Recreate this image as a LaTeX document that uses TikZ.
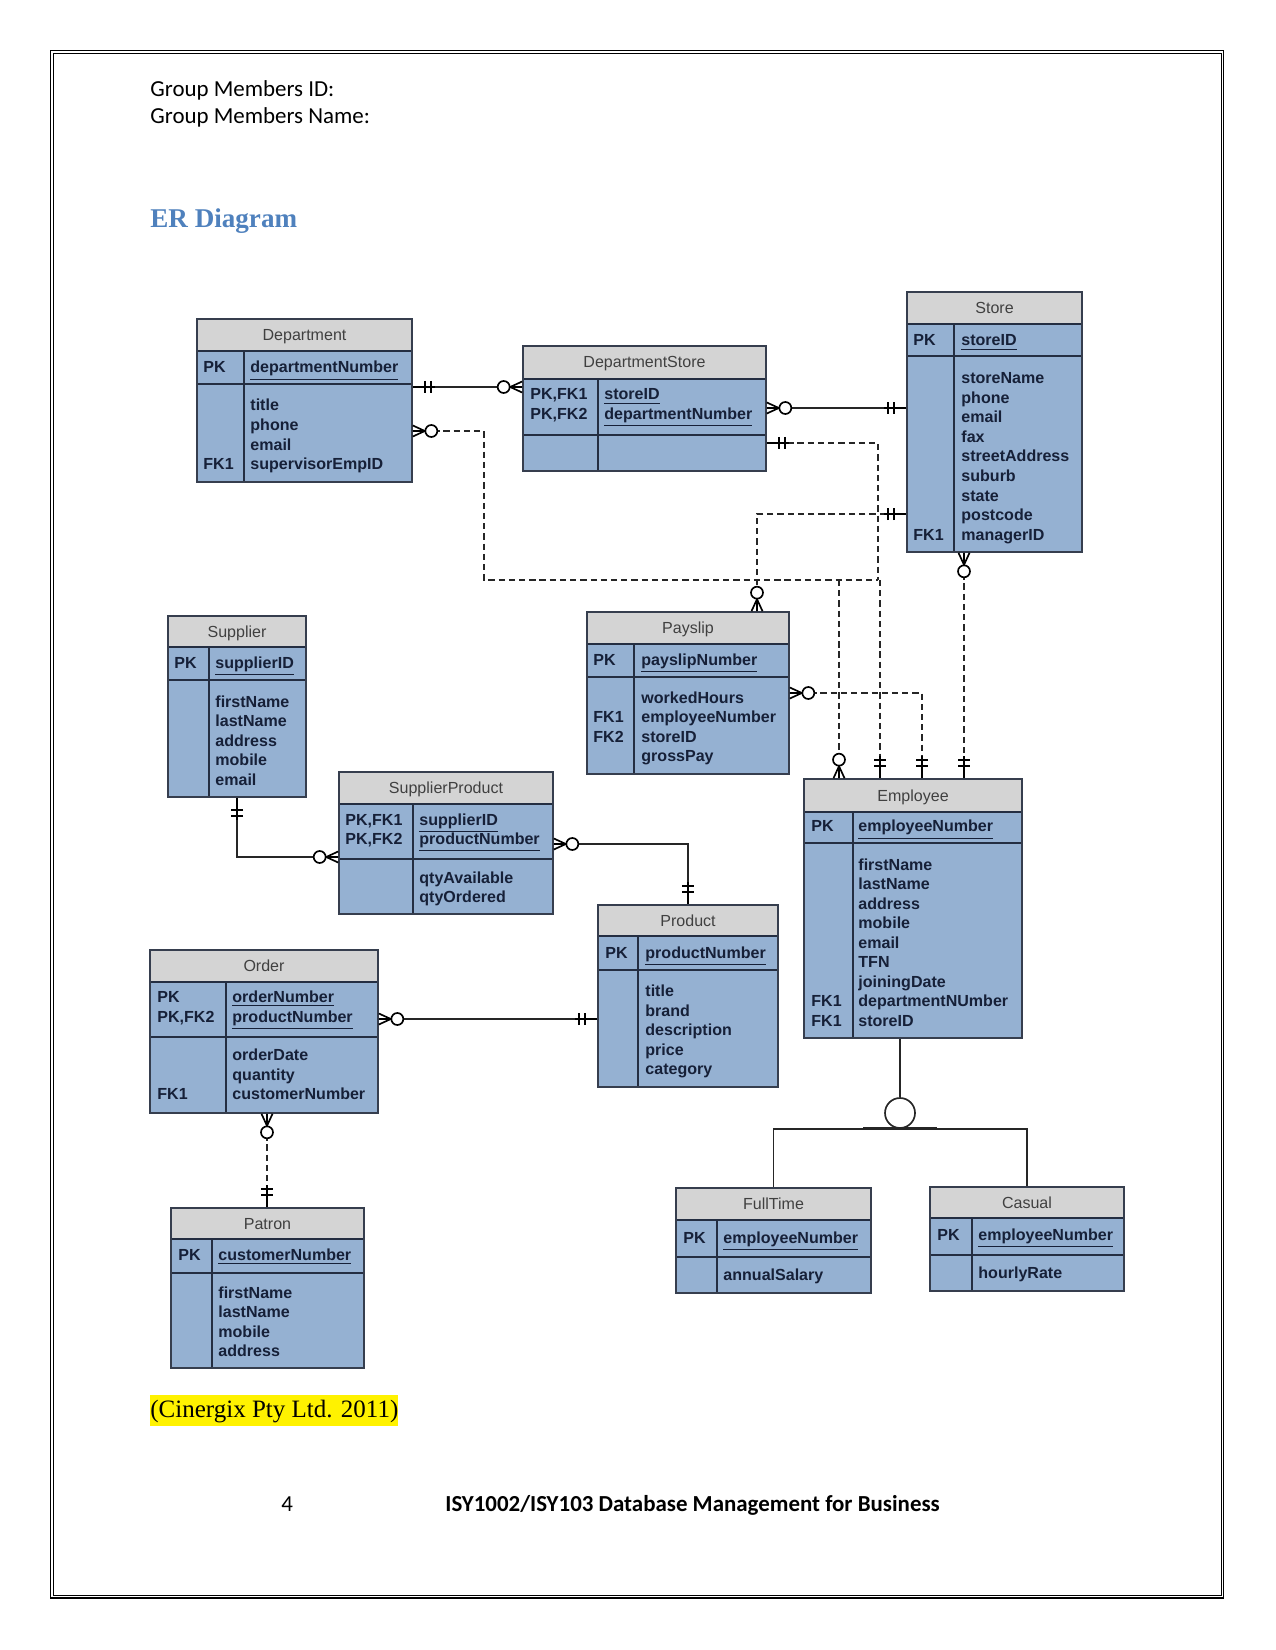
\documentclass[tikz,border=0pt]{standalone}
\usepackage{fontspec}
\setmainfont{Carlito}
\newfontfamily\ersans{Liberation Sans}
\newfontfamily\erserif{Liberation Serif}
\usetikzlibrary{calc,fit}

\definecolor{headgray}{RGB}{212,212,212}
\definecolor{bodyblue}{RGB}{149,177,210}
\definecolor{inkblue}{RGB}{22,32,56}
\definecolor{rulenavy}{RGB}{36,46,66}
\definecolor{headingblue}{RGB}{79,129,189}

\tikzset{
  tablebox/.style={draw=rulenavy!80!gray, line width=0.8pt, inner sep=0pt},
  rowrule/.style={draw=rulenavy, line width=0.7pt},
  tabletitle/.style={anchor=base, inner sep=0pt, text=black!75, font=\ersans\fontsize{7.7}{9}\selectfont},
  field/.style={anchor=base west, inner sep=0pt, text=inkblue, font=\ersans\bfseries\fontsize{7.7}{9}\selectfont},
  rel/.style={draw=black!85, line width=0.8pt},
  weakrel/.style={rel, dash pattern=on 3pt off 1.9pt},
  zmany/.pic={
    \draw[solid, line width=0.8pt] (0,-5.5) -- (12,0) -- (0,5.5) (0,0) -- (12.5,0);
    \draw[solid, line width=0.8pt, fill=white] (18.5,0) circle[radius=6];
  },
  mone/.pic={
    \draw[solid, line width=0.8pt] (0,0) -- (22,0) (12,-6) -- (12,6) (18,-6) -- (18,6);
  },
}

% name, left, top, right, key column, title bottom, key bottom, bottom, title
\newcommand{\ertable}[9]{%
  \fill[headgray] (#2,#3) rectangle (#4,#6);
  \fill[bodyblue] (#2,#6) rectangle (#4,#8);
  \draw[rowrule] (#2,#6) -- (#4,#6) (#2,#7) -- (#4,#7) (#5,#6) -- (#5,#8);
  \coordinate (#1-nw) at (#2,#3);
  \coordinate (#1-se) at (#4,#8);
  \node[tablebox, fit={(#1-nw) (#1-se)}] (#1) {};
  \node[tabletitle] (#1-title) at ({(#2+#4)/2},{(#3+#6)/2+5.5}) {#9};
}
\newcommand{\fieldcol}[4]{%
  \foreach \fname [count=\i] in {#4}
    \node[field] (#1\i) at (#2,{#3+(\i-1)*19.5}) {\fname};
}

\begin{document}
\begin{tikzpicture}[x=0.48pt, y=-0.48pt]
\useasboundingbox (0,0) rectangle (1275,1650);
\draw[line width=0.7pt] (50.5,50.5) rectangle (1223.5,1598);
\draw[line width=0.4pt] (53,53) rectangle (1221,1595.5);

\node[anchor=base west, inner sep=0pt, font=\fontsize{11}{13}\selectfont] (gid) at (150,96.7) {Group Members ID:};
\node[anchor=base west, inner sep=0pt, font=\fontsize{11}{13}\selectfont] (gname) at (150,124) {Group Members Name:};
\node[anchor=base west, inner sep=0pt, text=headingblue, font=\erserif\bfseries\fontsize{13}{15}\selectfont] (ertitle) at (150,228) {ER Diagram};

\ertable{dept}{197}{319}{412}{244}{351}{384}{482}{Department}
\fieldcol{dept-k}{203}{373}{PK}
\fieldcol{dept-p}{250}{373}{\underline{departmentNumber}}
\fieldcol{dept-a}{250}{411}{title,phone,email,supervisorEmpID}
\node[field] (dept-fk) at (203,469.5) {FK1};

\ertable{dstore}{523}{346}{766}{598}{379}{435}{471}{DepartmentStore}
\fieldcol{dstore-k}{530}{400}{{PK,FK1},{PK,FK2}}
\fieldcol{dstore-p}{604}{400}{\underline{storeID},\underline{departmentNumber}}

\ertable{store}{907}{292}{1082}{954}{324}{356}{552}{Store}
\fieldcol{store-k}{913}{346}{PK}
\fieldcol{store-p}{961}{346}{\underline{storeID}}
\fieldcol{store-a}{961}{384}{storeName,phone,email,fax,streetAddress,suburb,state,postcode,managerID}
\node[field] (store-fk) at (913,540) {FK1};

\ertable{supplier}{168}{616}{306}{209}{647}{680}{797}{Supplier}
\fieldcol{supplier-k}{174}{668.5}{PK}
\fieldcol{supplier-p}{215}{668.5}{\underline{supplierID}}
\fieldcol{supplier-a}{215}{707.3}{firstName,lastName,address,mobile,email}

\ertable{supprod}{339}{772}{553}{413}{804}{859}{914}{SupplierProduct}
\fieldcol{supprod-k}{345}{825}{{PK,FK1},{PK,FK2}}
\fieldcol{supprod-p}{419}{825}{\underline{supplierID},\underline{productNumber}}
\fieldcol{supprod-a}{419}{883}{qtyAvailable,qtyOrdered}

\ertable{payslip}{587}{612}{789}{634}{644}{677}{774}{Payslip}
\fieldcol{payslip-k}{593}{665}{PK}
\fieldcol{payslip-p}{641}{665}{\underline{payslipNumber}}
\fieldcol{payslip-a}{641}{703.3}{workedHours,employeeNumber,storeID,grossPay}
\fieldcol{payslip-f}{593}{722.8}{FK1,FK2}

\ertable{emp}{804}{779}{1022}{853}{812}{843}{1038}{Employee}
\fieldcol{emp-k}{811}{831.7}{PK}
\fieldcol{emp-p}{858}{831.7}{\underline{employeeNumber}}
\fieldcol{emp-a}{858}{870}{firstName,lastName,address,mobile,email,TFN,joiningDate,departmentNUmber,storeID}
\fieldcol{emp-f}{811}{1006.5}{FK1,FK1}

\ertable{product}{598}{905}{778}{638}{936}{970}{1087}{Product}
\fieldcol{product-k}{605}{958.5}{PK}
\fieldcol{product-p}{645}{958.5}{\underline{productNumber}}
\fieldcol{product-a}{645}{996.7}{title,brand,description,price,category}

\ertable{order}{150}{950}{378}{226}{982}{1037}{1113}{Order}
\fieldcol{order-k}{157}{1002.7}{PK,{PK,FK2}}
\fieldcol{order-p}{232}{1002.7}{\underline{orderNumber},\underline{productNumber}}
\fieldcol{order-a}{232}{1060.7}{orderDate,quantity,customerNumber}
\node[field] (order-fk) at (157,1099.7) {FK1};

\ertable{patron}{171}{1208}{364}{212}{1239}{1273}{1368}{Patron}
\fieldcol{patron-k}{178}{1260}{PK}
\fieldcol{patron-p}{218}{1260}{\underline{customerNumber}}
\fieldcol{patron-a}{218}{1298.3}{firstName,lastName,mobile,address}

\ertable{fulltime}{676}{1188}{871}{717}{1220}{1257}{1293}{FullTime}
\fieldcol{fulltime-k}{683}{1243}{PK}
\fieldcol{fulltime-p}{723}{1243}{\underline{employeeNumber}}
\fieldcol{fulltime-a}{723}{1280}{annualSalary}

\ertable{casual}{930}{1187}{1124}{972}{1218}{1255}{1291}{Casual}
\fieldcol{casual-k}{937}{1240}{PK}
\fieldcol{casual-p}{978}{1240}{\underline{employeeNumber}}
\fieldcol{casual-a}{978}{1278}{hourlyRate}

% relationships
\draw[rel] (dept.east |- 0,387) -- (dstore.west |- 0,387);
\path (dept.east |- 0,387) pic{mone};
\path (dstore.west |- 0,387) pic[rotate=180]{zmany};

\draw[rel] (dstore.east |- 0,408) -- (store.west |- 0,408);
\path (dstore.east |- 0,408) pic{zmany};
\path (store.west |- 0,408) pic[rotate=180]{mone};

\draw[weakrel] (dept.east |- 0,431) -- (484,431) -- (484,580) -- (878,580);
\path (dept.east |- 0,431) pic{zmany};
\draw[weakrel] (dstore.east |- 0,443) -- (878,443) -- (878,580);
\path (dstore.east |- 0,443) pic{mone};
\draw[weakrel] (880,580) -- (emp.north -| 880,0);
\path (emp.north -| 880,0) pic[rotate=90]{mone};
\draw[weakrel] (839,580) -- (emp.north -| 839,0);
\path (emp.north -| 839,0) pic[rotate=90]{zmany};

\draw[weakrel] (store.west |- 0,514) -- (757,514) -- (payslip.north -| 757,0);
\path (store.west |- 0,514) pic[rotate=180]{mone};
\path (payslip.north -| 757,0) pic[rotate=90]{zmany};

\draw[weakrel] (payslip.east |- 0,693) -- (922,693) -- (emp.north -| 922,0);
\path (payslip.east |- 0,693) pic{zmany};
\path (emp.north -| 922,0) pic[rotate=90]{mone};

\draw[weakrel] (store.south -| 964,0) -- (emp.north -| 964,0);
\path (store.south -| 964,0) pic[rotate=-90]{zmany};
\path (emp.north -| 964,0) pic[rotate=90]{mone};

\draw[rel] (supplier.south -| 237,0) -- (237,857) -- (supprod.west |- 0,857);
\path (supplier.south -| 237,0) pic[rotate=-90]{mone};
\path (supprod.west |- 0,857) pic[rotate=180]{zmany};

\draw[rel] (supprod.east |- 0,844) -- (product.north |- 0,844) -- (product.north);
\path (supprod.east |- 0,844) pic{zmany};
\path (product.north) pic[rotate=90]{mone};

\draw[rel] (order.east |- 0,1019) -- (product.west |- 0,1019);
\path (order.east |- 0,1019) pic{zmany};
\path (product.west |- 0,1019) pic[rotate=180]{mone};

\draw[weakrel] (order.south -| 267,0) -- (patron.north -| 267,0);
\path (order.south -| 267,0) pic[rotate=-90]{zmany};
\path (patron.north -| 267,0) pic[rotate=90]{mone};

% subtypes
\node[draw=black!85, circle, fill=white, minimum size=14.4pt, inner sep=0pt, line width=0.8pt] (isa) at (900,1113) {};
\draw[rel] (isa |- emp.south) -- (isa.north);
\draw[rel] (fulltime.north) |- (isa.south) -| (casual.north);
\draw[line width=1.4pt, black!85] ($(isa.south)+(-37,0)$) -- ($(isa.south)+(37,0)$);

\node[anchor=base west, fill=yellow, inner xsep=0pt, inner ysep=1.5pt, text height=9pt, text depth=3pt, font=\erserif\fontsize{12}{14}\selectfont] (cite) at (150,1417) {(Cinergix Pty Ltd. 2011)};
\node[anchor=base west, inner sep=0pt, font=\fontsize{11}{13}\selectfont] (pageno) at (281,1511) {4};
\node[anchor=base west, inner sep=0pt, font=\bfseries\fontsize{11}{13}\selectfont] (footer) at (445,1511) {ISY1002/ISY103 Database Management for Business};
\end{tikzpicture}
\end{document}
